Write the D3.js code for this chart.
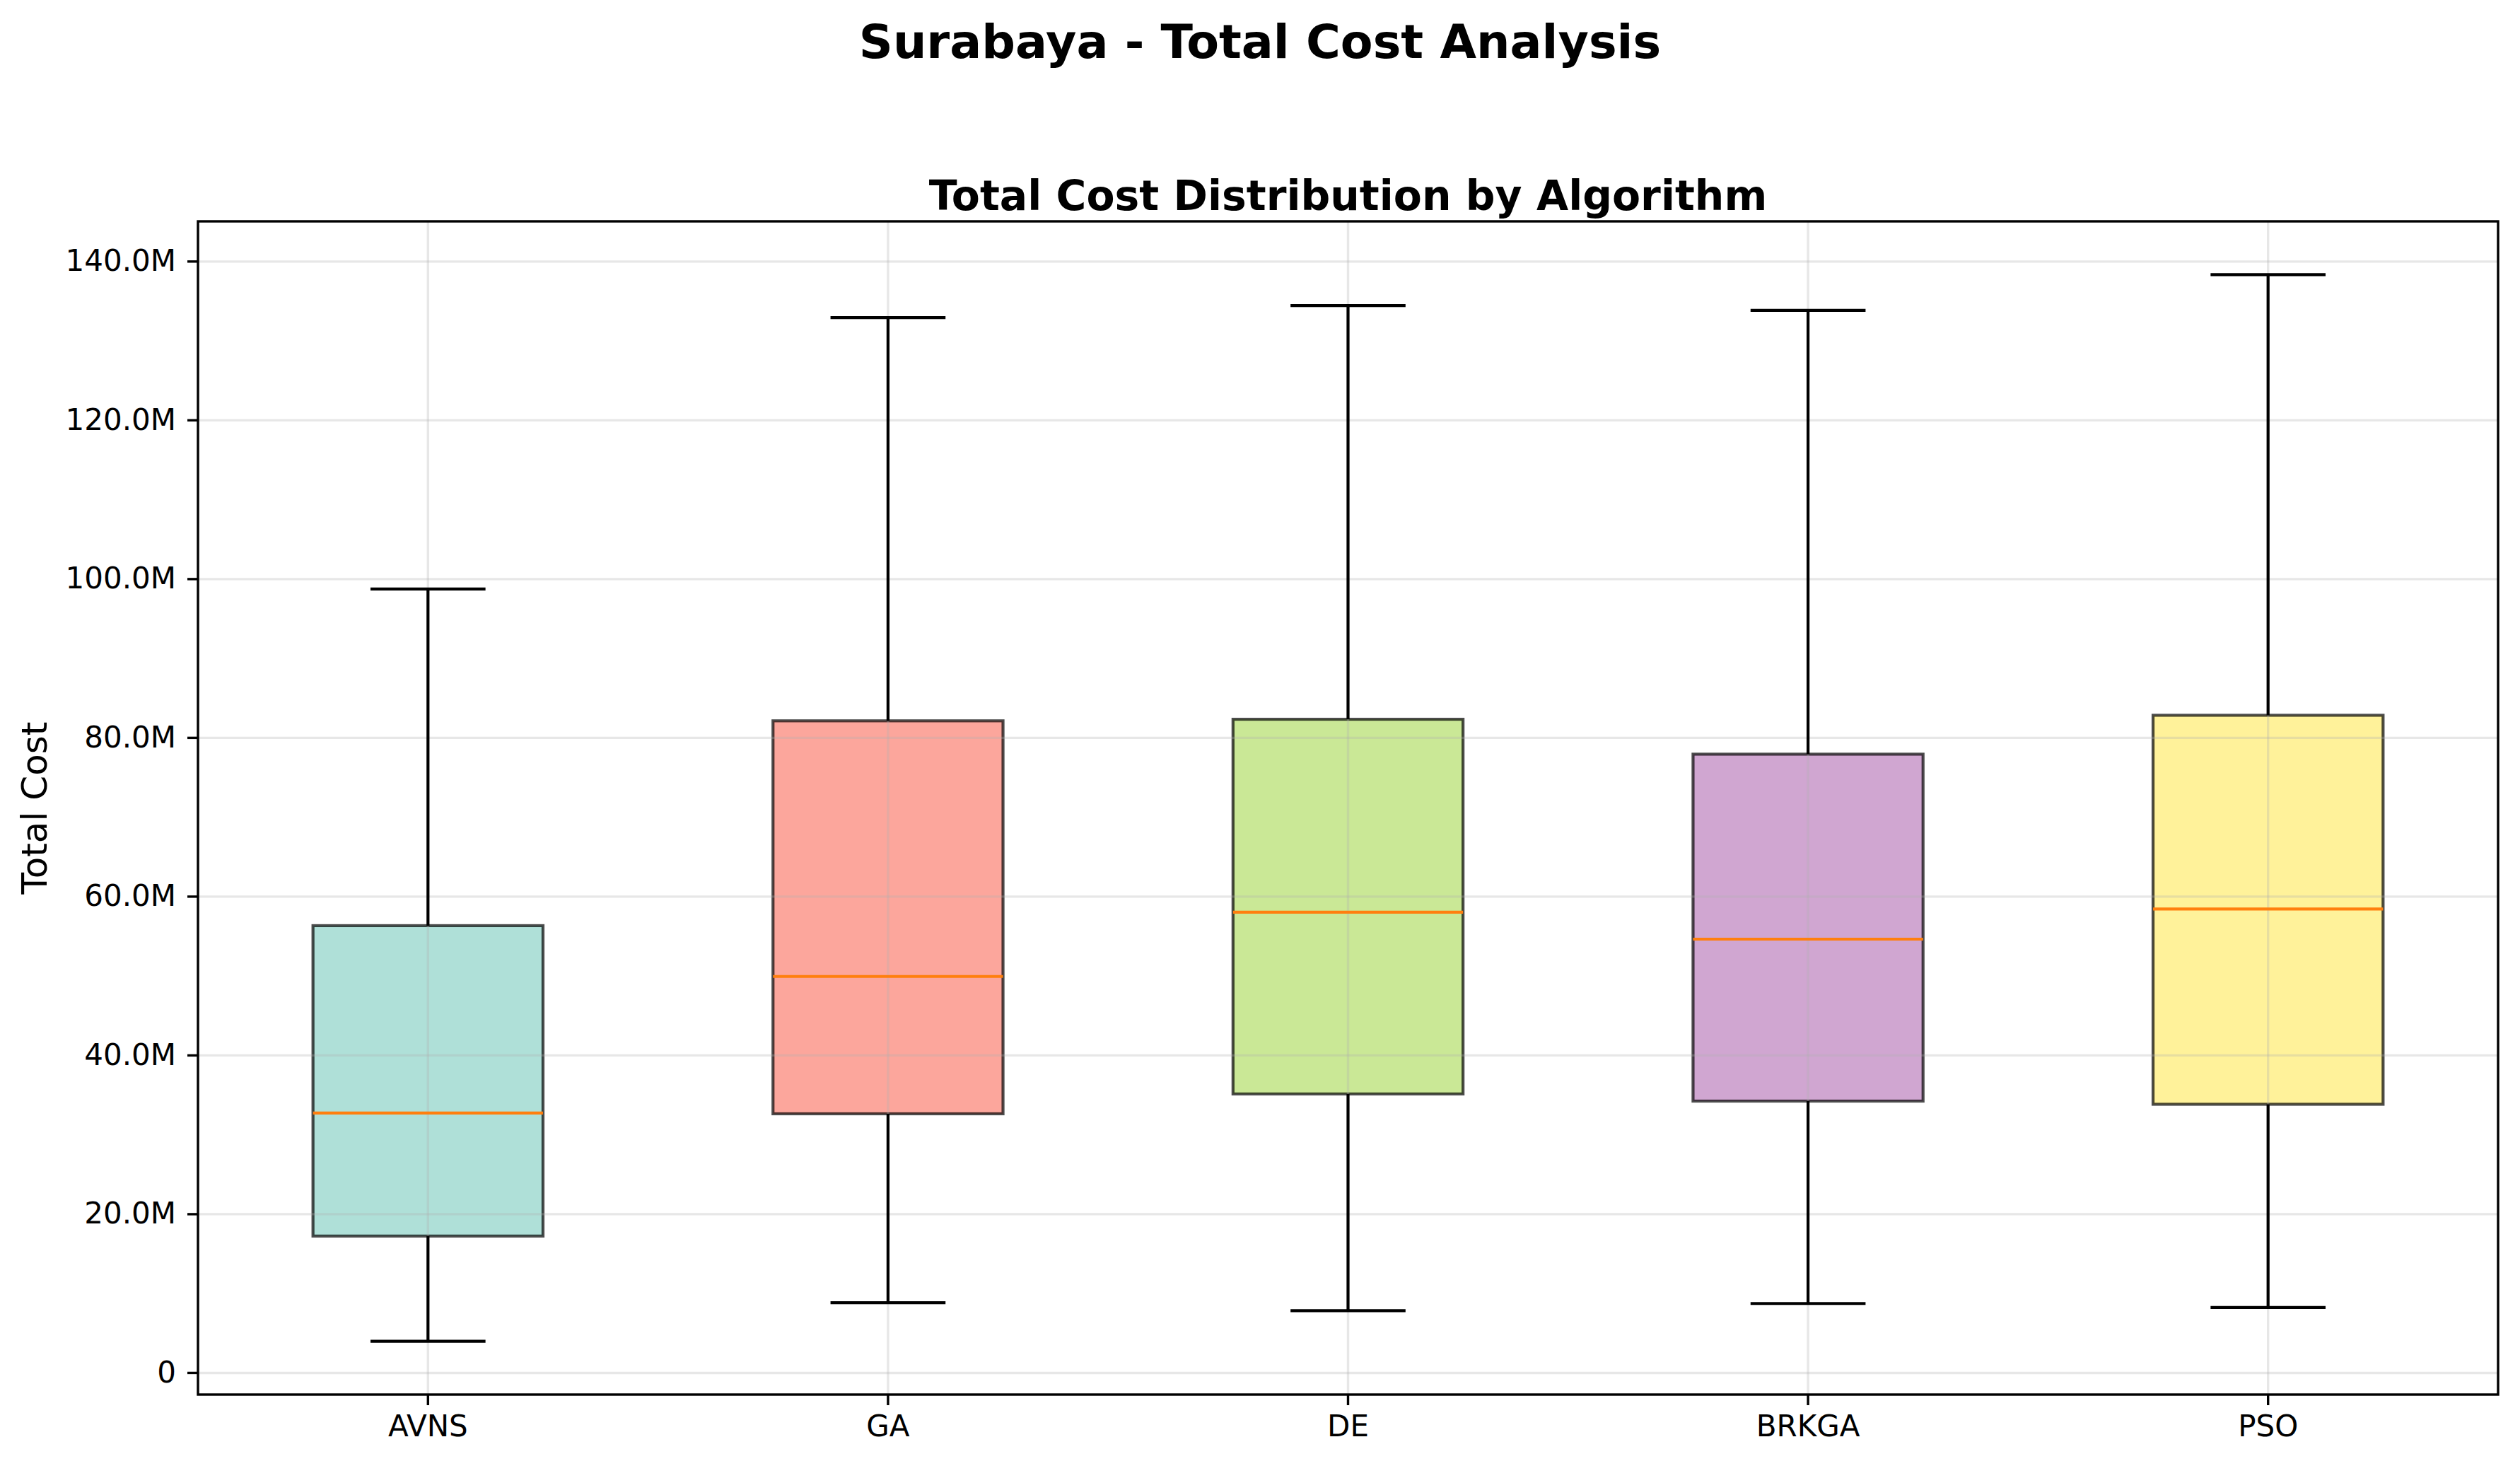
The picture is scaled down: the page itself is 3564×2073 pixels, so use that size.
<!DOCTYPE html>
<html>
  <head>
    <meta charset="utf-8">
    <style>
      body { margin: 0; background: #fff; }
      text { font-family: "DejaVu Sans", sans-serif; }
    </style>
  </head>
  <body>
    <script src="https://cdn.jsdelivr.net/npm/d3@7"></script>
    <script>
    // values, in millions
    var algorithms = ["AVNS", "GA", "DE", "BRKGA", "PSO"];
    var whiskerLow = [3.95, 8.8, 7.8, 8.7, 8.2];
    var q1 = [17.2, 32.6, 35.1, 34.2, 33.8];
    var medians = [32.7, 49.9, 58.0, 54.6, 58.4];
    var q3 = [56.3, 82.1, 82.3, 77.9, 82.8];
    var whiskerHigh = [98.7, 132.9, 134.4, 133.8, 138.3];
    var yTicks = [0, 20, 40, 60, 80, 100, 120, 140];
    var boxColors = ["#8dd3c7", "#fb8072", "#b3de69", "#bc80bd", "#ffed6f"];

    var W = 3564, H = 2073;
    var margin = { top: 313, right: W - 3533, bottom: H - 1972, left: 280 };
    var width = W - margin.left - margin.right,
        height = H - margin.top - margin.bottom;

    var svg = d3.select("body").append("svg")
        .attr("width", W)
        .attr("height", H);

    var g = svg.append("g")
        .attr("transform", "translate(" + margin.left + "," + margin.top + ")");

    var dataset = algorithms.map(function(a, i) {
      return { name: a, lo: whiskerLow[i], q1: q1[i], med: medians[i], q3: q3[i], hi: whiskerHigh[i], color: boxColors[i] };
    });

    var xScale = d3.scaleBand()
        .domain(algorithms)
        .range([0, width])
        .padding(0);
    var bw = xScale.bandwidth();
    var cx = function(d) { return xScale(d.name) + bw / 2; };

    // matplotlib-style 5% margins
    var lo = d3.min(whiskerLow), hi = d3.max(whiskerHigh), pad = (hi - lo) * 0.05;
    var yScale = d3.scaleLinear()
        .domain([lo - pad, hi + pad])
        .range([height, 0]);

    var fmt = function(d) { return d === 0 ? "0" : d.toFixed(1) + "M"; };

    // boxes (below the grid, like matplotlib patches)
    g.selectAll("rect.box")
      .data(dataset)
      .enter().append("rect")
        .attr("class", "box")
        .attr("x", function(d) { return cx(d) - bw * 0.25; })
        .attr("width", bw * 0.5)
        .attr("y", function(d) { return yScale(d.q3); })
        .attr("height", function(d) { return yScale(d.q1) - yScale(d.q3); })
        .attr("fill", function(d) { return d.color; })
        .attr("fill-opacity", 0.7)
        .attr("stroke", "#000")
        .attr("stroke-opacity", 0.7)
        .attr("stroke-width", 4.2);

    // grid
    g.append("g")
        .call(d3.axisLeft(yScale).tickValues(yTicks).tickSize(-width).tickFormat(""))
        .call(function(s) {
          s.select(".domain").remove();
          s.selectAll("line").attr("stroke", "#b0b0b0").attr("stroke-opacity", 0.3).attr("stroke-width", 3.4);
        });
    g.append("g")
        .attr("transform", "translate(0," + height + ")")
        .call(d3.axisBottom(xScale).tickSize(height).tickFormat(""))
        .call(function(s) {
          s.select(".domain").remove();
          s.selectAll("line").attr("stroke", "#b0b0b0").attr("stroke-opacity", 0.3).attr("stroke-width", 3.4)
            .attr("y2", -height);
        });

    // whiskers and caps
    var wl = g.append("g").attr("stroke", "#000").attr("stroke-width", 4.2);
    dataset.forEach(function(d) {
      wl.append("line").attr("x1", cx(d)).attr("x2", cx(d)).attr("y1", yScale(d.q3)).attr("y2", yScale(d.hi));
      wl.append("line").attr("x1", cx(d)).attr("x2", cx(d)).attr("y1", yScale(d.q1)).attr("y2", yScale(d.lo));
      wl.append("line").attr("x1", cx(d) - bw * 0.125).attr("x2", cx(d) + bw * 0.125).attr("y1", yScale(d.hi)).attr("y2", yScale(d.hi));
      wl.append("line").attr("x1", cx(d) - bw * 0.125).attr("x2", cx(d) + bw * 0.125).attr("y1", yScale(d.lo)).attr("y2", yScale(d.lo));
    });

    // medians
    g.selectAll("line.median")
      .data(dataset)
      .enter().append("line")
        .attr("class", "median")
        .attr("x1", function(d) { return cx(d) - bw * 0.25; })
        .attr("x2", function(d) { return cx(d) + bw * 0.25; })
        .attr("y1", function(d) { return yScale(d.med); })
        .attr("y2", function(d) { return yScale(d.med); })
        .attr("stroke", "#ff7f0e")
        .attr("stroke-width", 4.2);

    // axes
    var yAxis = g.append("g")
        .call(d3.axisLeft(yScale).tickValues(yTicks).tickFormat(fmt).tickSize(15).tickPadding(16));
    var xAxis = g.append("g")
        .attr("transform", "translate(0," + height + ")")
        .call(d3.axisBottom(xScale).tickSize(15).tickPadding(14));
    [yAxis, xAxis].forEach(function(a) {
      a.select(".domain").remove();
      a.selectAll("line").attr("stroke", "#000").attr("stroke-width", 3.4);
      a.selectAll("text").attr("font-size", 42).attr("fill", "#000").attr("font-family", "DejaVu Sans");
    });

    // frame
    g.append("rect")
        .attr("width", width).attr("height", height)
        .attr("fill", "none").attr("stroke", "#000").attr("stroke-width", 3.4);

    // labels
    svg.append("text")
        .attr("transform", "translate(66," + (margin.top + height / 2) + ") rotate(-90)")
        .attr("text-anchor", "middle")
        .attr("font-size", 50)
        .text("Total Cost");

    svg.append("text")
        .attr("x", margin.left + width / 2)
        .attr("y", 297)
        .attr("text-anchor", "middle")
        .attr("font-size", 58.4)
        .attr("font-weight", "bold")
        .text("Total Cost Distribution by Algorithm");

    svg.append("text")
        .attr("x", W / 2)
        .attr("y", 82)
        .attr("text-anchor", "middle")
        .attr("font-size", 66.7)
        .attr("font-weight", "bold")
        .text("Surabaya - Total Cost Analysis");
    </script>
  </body>
</html>
